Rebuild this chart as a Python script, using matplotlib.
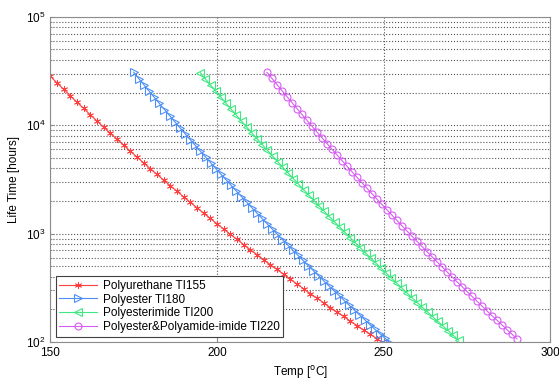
import numpy as np
import matplotlib
matplotlib.use("Agg")
import matplotlib.pyplot as plt
from matplotlib.ticker import LogLocator, NullFormatter

plt.rcParams['font.family'] = ['Liberation Sans', 'DejaVu Sans']

# Polyurethane TI155
t_pu = [150, 152, 154, 156, 158, 160, 162, 164, 166, 168, 170, 172, 174, 176, 178,
        180, 182, 184, 186, 188, 190, 192, 194, 196, 198, 200, 202, 204, 206, 208,
        210, 212, 214, 216, 218, 220, 222, 224, 226, 228, 230, 232, 234, 236, 238,
        240, 242, 244, 246, 248, 250]
life_pu = [28300, 24600, 21500, 18700, 16300, 14300, 12500, 10950, 9610, 8443, 7425,
           6539, 5764, 5087, 4495, 3976, 3520, 3120, 2768, 2459, 2186, 1945, 1734,
           1546, 1380, 1233, 1103, 987, 884, 793, 712, 640, 575, 518, 467, 421, 380,
           343, 310, 280, 254, 230, 208, 189, 172, 156, 142, 129, 118, 107, 98]

# Polyester TI180
t_pe = [175.00, 176.54, 178.08, 179.62, 181.16, 182.70, 184.24, 185.78, 187.32, 188.86,
        190.40, 191.94, 193.48, 195.02, 196.56, 198.10, 199.64, 201.18, 202.72, 204.26,
        205.80, 207.34, 208.88, 210.42, 211.96, 213.50, 215.04, 216.58, 218.12, 219.66,
        221.20, 222.74, 224.28, 225.82, 227.36, 228.90, 230.44, 231.98, 233.52, 235.06,
        236.60, 238.14, 239.68, 241.22, 242.76, 244.30, 245.84, 247.38, 248.92, 250.46,
        252.00]
life_pe = [30840, 26960, 23590, 20670, 18110, 15890, 13950, 12270, 10790, 9500, 8370,
           7383, 6516, 5756, 5089, 4502, 3987, 3533, 3133, 2782, 2470, 2196, 1954, 1739,
           1550, 1382, 1233, 1101, 983, 879, 787, 705, 631, 566, 508, 456, 410, 368, 331,
           298, 269, 242, 218, 197, 178, 161, 145, 131, 119, 108, 98]

# Polyesterimide TI200
t_pei = [195.00, 196.55, 198.10, 199.65, 201.20, 202.75, 204.30, 205.85, 207.40, 208.95,
         210.50, 212.05, 213.60, 215.15, 216.70, 218.25, 219.80, 221.35, 222.90, 224.45,
         226.00, 227.55, 229.10, 230.65, 232.20, 233.75, 235.30, 236.85, 238.40, 239.95,
         241.50, 243.05, 244.60, 246.15, 247.70, 249.25, 250.80, 252.35, 253.90, 255.45,
         257.00, 258.55, 260.10, 261.65, 263.20, 264.75, 266.30, 267.85, 269.40, 270.95,
         272.50]
life_pei = [30510, 26740, 23460, 20590, 18090, 15910, 14000, 12340, 10880, 9594, 8472,
            7486, 6622, 5861, 5191, 4601, 4081, 3623, 3219, 2862, 2547, 2267, 2020, 1802,
            1607, 1435, 1282, 1147, 1026, 919, 823, 738, 662, 594, 534, 480, 432, 388,
            350, 315, 284, 256, 231, 209, 189, 171, 155, 140, 127, 115, 104]

# Polyester&Polyamide-imide TI220
t_pai = [215.0, 216.5, 218.0, 219.5, 221.0, 222.5, 224.0, 225.5, 227.0, 228.5, 230.0,
         231.5, 233.0, 234.5, 236.0, 237.5, 239.0, 240.5, 242.0, 243.5, 245.0, 246.5,
         248.0, 249.5, 251.0, 252.5, 254.0, 255.5, 257.0, 258.5, 260.0, 261.5, 263.0,
         264.5, 266.0, 267.5, 269.0, 270.5, 272.0, 273.5, 275.0, 276.5, 278.0, 279.5,
         281.0, 282.5, 284.0, 285.5, 287.0, 288.5, 290.0]
life_pai = [30780, 27020, 23740, 20870, 18370, 16180, 14250, 12570, 11090, 9797, 8658,
            7661, 6781, 6007, 5324, 4724, 4194, 3726, 3311, 2946, 2623, 2336, 2082, 1857,
            1658, 1480, 1323, 1183, 1058, 948, 849, 761, 683, 613, 551, 495, 445, 400,
            360, 325, 293, 264, 238, 215, 194, 175, 159, 144, 130, 118, 107]

labels = ['Polyurethane TI155', 'Polyester TI180', 'Polyesterimide TI200',
          'Polyester&Polyamide-imide TI220']

fig = plt.figure(figsize=(5.59, 3.83), dpi=100)
ax = fig.add_axes([0.090, 0.107, 0.8944, 0.849])

ax.semilogy(t_pu, life_pu, '-', marker=(6, 2, 0), color='#ff4040', lw=0.8, ms=5, mew=0.6, label=labels[0])
ax.semilogy(t_pe, life_pe, '->', color='#4d8ff5', lw=0.8, ms=5.5, mew=0.8, mfc='none', label=labels[1])
ax.semilogy(t_pei, life_pei, '-<', color='#3ee882', lw=0.8, ms=5.5, mew=0.8, mfc='none', label=labels[2])
ax.semilogy(t_pai, life_pai, '-o', color='#d65cf2', lw=0.8, ms=5, mew=0.8, mfc='none', label=labels[3])

ax.set_xlim(150, 300)
ax.set_ylim(1e2, 1e5)
ax.set_xticks([150, 200, 250, 300])
ax.yaxis.set_major_locator(LogLocator(base=10, numticks=10))
ax.yaxis.set_minor_locator(LogLocator(base=10, subs=np.arange(2, 10), numticks=10))
ax.yaxis.set_minor_formatter(NullFormatter())

ax.grid(True, which='major', axis='both', linestyle=':', color='#555555', lw=0.8)
ax.grid(True, which='minor', axis='y', linestyle=':', color='#555555', lw=0.8)

for s in ax.spines.values():
    s.set_color('#8c8c8c')
ax.tick_params(which='both', direction='in', colors='#8c8c8c', labelcolor='black', labelsize=8.5)
ax.tick_params(which='major', length=3)
ax.tick_params(which='minor', length=1.5)

ax.set_xlabel('Temp [$^{\\mathrm{o}}$C]', fontsize=8.5)
ax.set_ylabel('Life Time [hours]', fontsize=8.5)

leg = ax.legend(loc='lower left', fontsize=8.5, fancybox=False, framealpha=1,
                edgecolor='#404040', borderaxespad=0.45, handlelength=3.2,
                labelspacing=0.15, borderpad=0.3, handletextpad=0.5)
leg.get_frame().set_linewidth(0.8)

fig.savefig('out.png', dpi=100)
